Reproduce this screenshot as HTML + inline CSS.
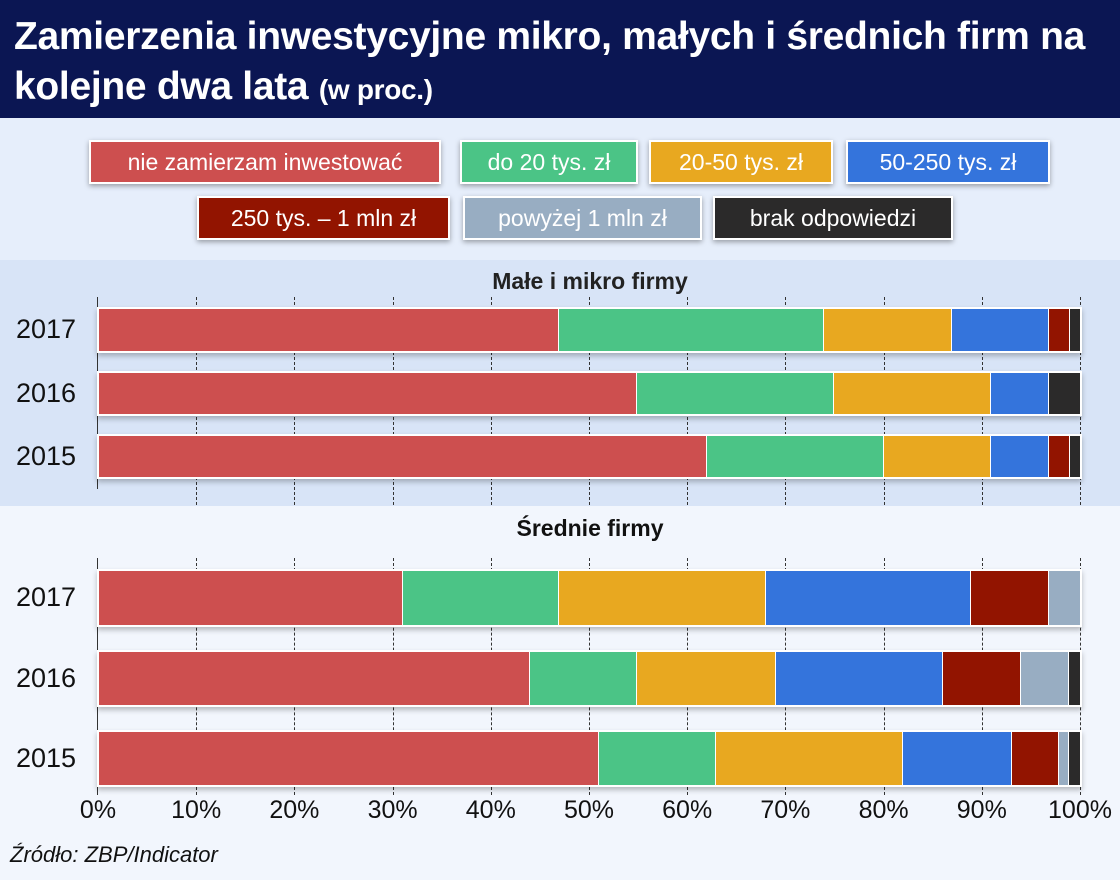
<!DOCTYPE html><html><head><meta charset="utf-8"><style>
*{margin:0;padding:0;box-sizing:border-box}
body{width:1120px;height:880px;position:relative;overflow:hidden;font-family:"Liberation Sans",sans-serif;background:#f1f5fc}
.a{position:absolute}
.hdr{left:0;top:0;width:1120px;height:118px;background:#0b1653}
.t{color:#fff;font-weight:bold;font-size:39px;left:14px;letter-spacing:-0.3px;line-height:46px;white-space:nowrap}
.lg{position:absolute;height:44px;border:2px solid #fff;color:#fff;font-size:23px;line-height:40px;text-align:center;box-shadow:0 2px 5px rgba(0,0,0,.35)}
.bar{position:absolute;border:2px solid #fff;box-shadow:0 3px 5px rgba(0,0,0,.25)}
.s{position:absolute;top:0;bottom:0;border-right:1px solid #fff}
.g{position:absolute;border-left:1px dashed #333;width:0}
.y{position:absolute;font-size:27px;color:#111;left:16px}
.x{position:absolute;top:796px;font-size:25px;color:#111;width:80px;text-align:center}
</style></head><body>
<div class="a hdr"></div>
<div class="a t" style="top:14px">Zamierzenia inwestycyjne mikro, małych i średnich firm na</div>
<div class="a t" style="top:64px">kolejne dwa lata <span style="font-size:28px">(w proc.)</span></div>
<div class="a" style="left:0;top:118px;width:1120px;height:142px;background:#e6eefb"></div>
<div class="a" style="left:0;top:260px;width:1120px;height:246px;background:#d8e4f7"></div>
<div class="a" style="left:0;top:506px;width:1120px;height:374px;background:#f2f6fd"></div>
<div class="lg" style="left:89px;top:140px;width:352px;background:#cd4f4f">nie zamierzam inwestować</div>
<div class="lg" style="left:460px;top:140px;width:178px;background:#4bc486">do 20 tys. zł</div>
<div class="lg" style="left:649px;top:140px;width:184px;background:#e8a820">20-50 tys. zł</div>
<div class="lg" style="left:846px;top:140px;width:204px;background:#3474dc">50-250 tys. zł</div>
<div class="lg" style="left:197px;top:196px;width:253px;background:#921400">250 tys. – 1 mln zł</div>
<div class="lg" style="left:463px;top:196px;width:239px;background:#98adc2">powyżej 1 mln zł</div>
<div class="lg" style="left:713px;top:196px;width:240px;background:#2b2a2a">brak odpowiedzi</div>
<div class="a" style="left:0;width:1180px;top:268px;text-align:center;font-size:23px;font-weight:bold;color:#222">Małe i mikro firmy</div>
<div class="a" style="left:0;width:1180px;top:515px;text-align:center;font-size:23px;font-weight:bold;color:#111">Średnie firmy</div>
<div id="c"></div>
<div class="a" style="left:10px;top:842px;font-size:22px;font-style:italic;color:#111">Źródło: ZBP/Indicator</div>
<script>
const C=['#cd4f4f','#4bc486','#e8a820','#3474dc','#921400','#98adc2','#2b2a2a'];
let h='';
for(let i=1;i<=10;i++){const x=98+i*98.2;h+=`<div class="g" style="left:${x}px;top:297px;height:208px"></div><div class="g" style="left:${x}px;top:558px;height:237px"></div>`;}
h+=`<div class="a" style="left:97px;top:297px;width:1px;height:192px;background:#333"></div><div class="a" style="left:97px;top:558px;width:1px;height:237px;background:#333"></div>`;
const bars=[[307,46,'2017',[558,823,951,1048,1069,1069,1080]],[371,45,'2016',[636,833,990,1048,1048,1048,1080]],[434,45,'2015',[706,883,990,1048,1069,1069,1080]],
[569,58,'2017',[402,558,765,970,1048,1080,1080]],[650,57,'2016',[529,636,775,942,1020,1068,1080]],[730,57,'2015',[598,715,902,1011,1058,1068,1080]]];
for(const [t,hh,l,e] of bars){h+=`<div class="bar" style="left:97px;top:${t}px;width:985px;height:${hh}px">`;let p=98;e.forEach((x,k)=>{if(x>p){h+=`<div class="s" style="left:${p-98}px;width:${x-p}px;background:${C[k]}"></div>`;p=x;}});h+=`</div><div class="y" style="top:${t+hh/2-16}px">${l}</div>`;}
for(let i=0;i<=10;i++){h+=`<div class="x" style="left:${98+i*98.2-40}px">${i*10}%</div>`;}
document.getElementById('c').innerHTML=h;
</script>
</body></html>
